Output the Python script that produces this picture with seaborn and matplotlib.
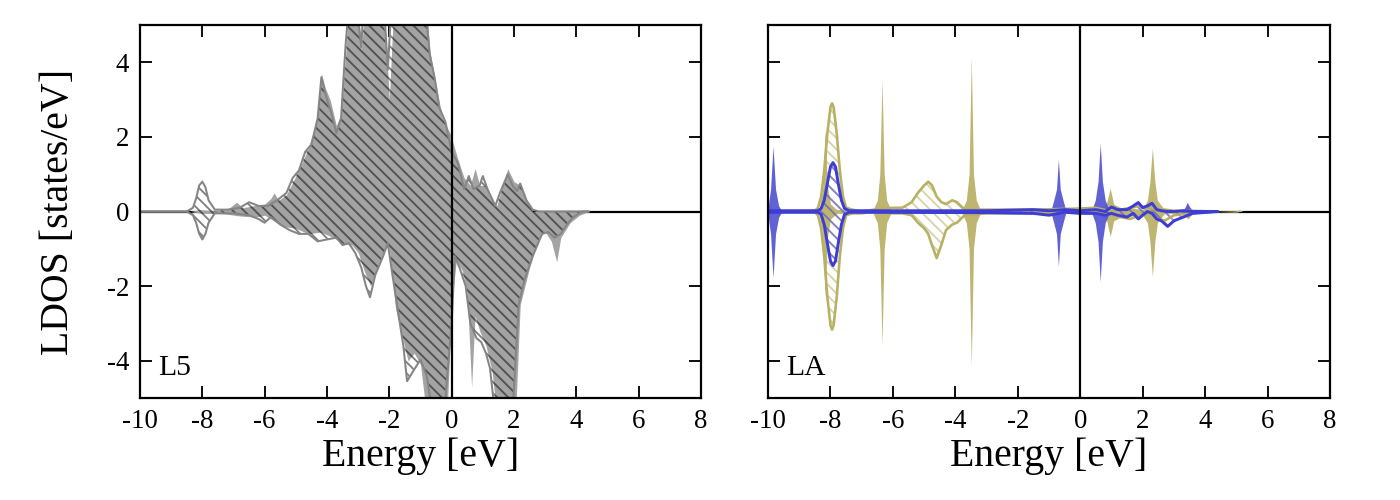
import numpy as np
import matplotlib
matplotlib.use("Agg")
import matplotlib.pyplot as plt
import seaborn as sns

# --- L5 site: solid (filled) LDOS ---
e_l5_fill_up = [-10.0, -8.4, -8.1, -7.6, -7.2, -6.9, -6.7, -6.4, -6.0, -5.8, -5.7, -5.55, -5.3, -5.0,
                -4.8, -4.6, -4.45, -4.3, -4.18, -4.05, -3.9, -3.7, -3.55, -3.4, -3.3, -3.05, -2.9,
                -2.75, -2.3, -2.1, -2.0, -1.9, -1.8, -0.85, -0.7, -0.5, -0.3, -0.05, 0.2, 0.4, 0.6,
                0.75, 0.9, 1.1, 1.3, 1.45, 1.6, 1.8, 2.0, 2.2, 2.4, 2.6, 4.4]
l5_fill_up = [0, 0, 0.05, 0.02, 0.05, 0.25, 0.1, 0.15, 0.2, 0.35, 0.5, 0.3, 0.45, 0.95,
              1.3, 1.7, 2.1, 2.6, 3.7, 3.3, 3.0, 2.3, 2.6, 4.2, 5.5, 6.0, 4.3,
              5.8, 6.0, 4.5, 3.0, 4.8, 6.0, 6.0, 4.3, 3.4, 2.5, 2.1, 1.4, 0.9, 0.7,
              1.15, 0.7, 0.7, 0.3, 0.15, 0.6, 1.15, 0.8, 0.7, 0.3, 0.0, 0.0]
e_l5_fill_dn = [-10.0, -8.4, -8.0, -7.4, -6.8, -6.3, -6.0, -5.7, -5.4, -5.0, -4.6, -4.2, -3.8, -3.5,
                -3.2, -3.0, -2.8, -2.6, -2.4, -2.1, -2.0, -1.8, -1.6, -1.4, -1.2, -1.0, -0.8,
                -0.15, 0.0, 0.15, 0.35, 0.5, 0.64, 0.75, 0.9, 1.1, 1.3, 1.45, 2.05, 2.2, 2.5,
                2.8, 3.0, 3.2, 3.37, 3.5, 3.8, 4.1, 4.4]
l5_fill_dn = [0, 0, -0.05, -0.05, -0.12, -0.15, -0.1, -0.25, -0.4, -0.45, -0.6, -0.55, -0.7, -0.85,
              -0.9, -1.1, -1.6, -2.0, -1.5, -0.9, -1.0, -2.6, -3.3, -4.0, -3.8, -4.1, -5.5,
              -5.5, -2.5, -1.3, -1.6, -2.2, -4.7, -2.8, -3.2, -3.6, -4.3, -5.5, -5.5, -2.5, -1.5,
              -0.7, -0.55, -0.8, -1.35, -0.7, -0.3, -0.1, 0.0]

# --- L5 site: hatched LDOS ---
e_l5_hatch_up = [-10.0, -8.5, -8.3, -8.2, -8.1, -8.0, -7.9, -7.8, -7.6, -7.2, -6.8, -6.5, -6.2, -5.9,
                 -5.6, -5.3, -5.1, -4.9, -4.7, -4.5, -4.3, -4.18, -4.0, -3.85, -3.7, -3.55, -3.4,
                 -3.3, -3.1, -2.9, -2.8, -2.2, -2.05, -1.9, -0.9, -0.7, -0.55, -0.4, -0.2, 0.0, 0.2,
                 0.4, 0.55, 0.7, 0.9, 1.0, 1.15, 1.4, 1.55, 1.8, 1.95, 2.1, 2.2, 2.4, 2.6, 2.8, 4.4]
l5_hatch_up = [0, 0, 0.1, 0.35, 0.7, 0.8, 0.65, 0.3, 0.05, 0.05, 0.1, 0.25, 0.15, 0.15,
               0.3, 0.5, 0.9, 1.1, 1.6, 1.8, 2.5, 3.6, 3.0, 2.6, 2.1, 2.5, 4.5,
               5.5, 6.0, 4.4, 6.0, 6.0, 3.8, 6.0, 6.0, 4.2, 3.6, 2.8, 2.4, 1.6, 1.3,
               0.6, 0.95, 0.6, 0.7, 0.95, 0.6, 0.15, 0.5, 1.0, 0.7, 0.55, 0.75, 0.3, 0.05, 0.0, 0.0]
e_l5_hatch_dn = [-10.0, -8.5, -8.3, -8.2, -8.1, -8.0, -7.9, -7.8, -7.6, -7.0, -6.5, -6.2, -6.0, -5.8,
                 -5.5, -5.2, -4.9, -4.6, -4.3, -4.0, -3.7, -3.5, -3.3, -3.1, -2.9, -2.75, -2.62,
                 -2.45, -2.2, -2.05, -1.9, -1.7, -1.55, -1.43, -1.25, -1.0, -0.8, -0.6, -0.25, 0.0,
                 0.1, 0.25, 0.45, 0.6, 0.8, 0.95, 1.1, 1.23, 1.4, 1.95, 2.15, 2.35, 2.6, 2.9, 3.1,
                 3.3, 3.5, 3.7, 3.9, 4.2, 4.4]
l5_hatch_dn = [0, 0, -0.1, -0.3, -0.6, -0.75, -0.6, -0.3, -0.05, -0.05, -0.1, -0.2, -0.3, -0.15,
               -0.35, -0.5, -0.6, -0.6, -0.8, -0.75, -0.7, -0.9, -0.85, -1.1, -1.5, -2.0, -2.3,
               -1.7, -1.2, -0.85, -1.7, -2.8, -3.6, -4.55, -4.3, -3.97, -4.4, -5.5, -5.5, -3.0,
               -1.2, -1.5, -2.0, -3.0, -3.4, -3.5, -3.8, -4.2, -5.5, -5.5, -2.5, -1.8, -1.2, -0.6, -0.55,
               -0.7, -0.6, -0.35, -0.15, 0.0, 0.0]

# --- LA site: olive solid spikes ---
e_la_olive = [-10.0, -8.5, -8.35, -8.25, -8.17, -8.1, -8.0, -7.8, -6.65, -6.5, -6.42, -6.35, -6.28,
              -6.2, -6.05, -3.8, -3.65, -3.56, -3.49, -3.42, -3.33, -3.2, -1.0, 0.0, 0.7, 0.85,
              0.96, 1.07, 1.3, 1.6, 2.0, 2.15, 2.23, 2.31, 2.39, 2.47, 2.7, 3.3, 3.45, 3.6, 3.8,
              4.2, 5.0, 5.1, 5.2]
la_olive_up = [0, 0, 0.1, 0.6, 2.2, 0.7, 0.2, 0.05, 0.02, 0.3, 1.0, 3.54, 1.0,
               0.3, 0.02, 0.02, 0.3, 1.0, 4.13, 1.0, 0.3, 0.05, 0.05, 0.05, 0.05, 0.25,
               0.62, 0.2, 0.1, 0.1, 0.05, 0.3, 0.8, 1.7, 0.8, 0.3, 0.05, 0.05, 0.15, 0.05, 0.05,
               0, 0.02, 0.05, 0]
la_olive_dn = [0, 0, -0.1, -0.6, -2.28, -0.7, -0.2, -0.05, -0.02, -0.3, -1.0, -3.57, -1.0,
               -0.3, -0.02, -0.02, -0.3, -1.0, -4.15, -1.0, -0.3, -0.05, -0.05, -0.05, -0.05, -0.25,
               -0.67, -0.25, -0.15, -0.12, -0.1, -0.3, -0.8, -1.74, -0.8, -0.3, -0.05, -0.05, -0.2, -0.05, -0.03,
               0, -0.02, 0, 0]

# --- LA site: blue solid spikes ---
e_la_blue = [-10.0, -9.92, -9.84, -9.76, -9.66, -9.55, -0.95, -0.85, -0.76, -0.7, -0.64, -0.55, -0.45,
             0.35, 0.48, 0.57, 0.64, 0.71, 0.8, 0.95, 3.2, 3.35, 3.43, 3.52, 3.65, 4.4]
la_blue_up = [0.1, 0.6, 1.75, 0.6, 0.15, 0, 0, 0.3, 0.6, 1.4, 0.6, 0.3, 0,
              0, 0.3, 0.8, 1.83, 0.8, 0.3, 0, 0, 0.1, 0.25, 0.1, 0, 0]
la_blue_dn = [-0.1, -0.6, -1.77, -0.6, -0.15, 0, 0, -0.3, -0.6, -1.47, -0.6, -0.3, 0,
              0, -0.3, -0.8, -1.88, -0.8, -0.3, 0, 0, -0.05, -0.12, -0.05, 0, 0]

# --- LA site: olive hatched ---
e_la_olive_h = [-10.0, -8.5, -8.4, -8.3, -8.2, -8.1, -8.0, -7.95, -7.9, -7.8, -7.7, -7.6, -7.5, -7.3,
                -7.0, -6.6, -6.0, -5.7, -5.4, -5.2, -5.0, -4.87, -4.75, -4.6, -4.45, -4.3, -4.1,
                -3.95, -3.7, -3.0, -1.5, 0.0, 0.5, 1.0, 1.3, 1.6, 1.9, 2.2, 2.5, 2.7, 3.0, 3.5, 4.4]
la_olive_h_up = [0, 0.02, 0.1, 0.4, 1.1, 2.1, 2.8, 2.9, 2.8, 2.1, 1.1, 0.4, 0.1, 0.05,
                 0.0, 0.05, 0.1, 0.1, 0.25, 0.5, 0.7, 0.8, 0.7, 0.4, 0.25, 0.2, 0.3,
                 0.25, 0.05, 0.05, 0.05, 0.08, 0.1, 0.0, 0.05, 0.1, 0.15, 0.1, 0.02, 0.05, 0.02, 0.02, 0]
la_olive_h_dn = [0, -0.02, -0.1, -0.45, -1.2, -2.3, -3.05, -3.17, -3.05, -2.3, -1.2, -0.45, -0.1, -0.05,
                 -0.05, 0, -0.05, -0.05, -0.1, -0.3, -0.45, -0.6, -0.9, -1.25, -0.9, -0.5, -0.35,
                 -0.3, -0.1, -0.05, -0.05, -0.02, 0, -0.1, -0.15, -0.2, -0.1, -0.05, -0.2, -0.25, -0.1, -0.05, 0]

# --- LA site: blue hatched ---
e_la_blue_h = [-10.0, -8.4, -8.3, -8.2, -8.1, -8.0, -7.92, -7.84, -7.75, -7.65, -7.55, -7.4, -3.0, -1.5,
               -1.0, -0.5, 0.0, 0.5, 0.8, 1.0, 1.2, 1.5, 1.7, 1.86, 2.0, 2.15, 2.3, 2.45, 2.6, 2.8,
               3.0, 3.3, 3.6, 4.4]
la_blue_h_up = [0.02, 0.02, 0.08, 0.3, 0.75, 1.2, 1.31, 1.2, 0.75, 0.3, 0.08, 0.02, 0.02, 0.05,
                0.02, 0.05, 0.02, 0.05, 0.0, 0.12, 0.05, 0.05, 0.15, 0.24, 0.1, 0.15, 0.22, 0.05, 0.02, 0.0,
                0.0, 0.02, 0.0, 0]
la_blue_h_dn = [-0.02, -0.02, -0.08, -0.35, -0.85, -1.33, -1.45, -1.33, -0.85, -0.35, -0.08, -0.02, -0.03, -0.05,
                -0.1, -0.02, -0.05, -0.05, -0.1, -0.05, -0.1, -0.15, -0.05, -0.2, -0.1, 0.0, -0.05, -0.2, -0.25, -0.4,
                -0.25, -0.15, -0.05, 0]

xticks = [-10, -8, -6, -4, -2, 0, 2, 4, 6, 8]
yticks = [-4, -2, 0, 2, 4]

sns.set_theme(style="ticks")
plt.rcParams['font.family'] = ['Liberation Serif', 'DejaVu Serif']
plt.rcParams['axes.unicode_minus'] = False
plt.rcParams['hatch.linewidth'] = 1.0
plt.rcParams['text.color'] = 'black'
plt.rcParams['axes.labelcolor'] = 'black'

fig = plt.figure(figsize=(10.5, 3.75), dpi=400 / 3)
ax1 = fig.add_axes([0.1, 0.204, 0.4007, 0.746])
ax2 = fig.add_axes([0.5486, 0.204, 0.4014, 0.746])

grey_fill = '#a3a3a3'
grey_line = '#858585'
olive = '#bdb570'
olive_line = '#b8b062'
blue = '#5050d2'
blue_line = '#3d3dd6'
HATCH = '\\\\\\\\'


def hatched(ax, e, vals, hatch_col, line_col, lw):
    e = np.asarray(e)
    ax.fill_between(e, 0, vals, facecolor='none', edgecolor=hatch_col, hatch=HATCH, linewidth=0)
    sns.lineplot(x=e, y=vals, ax=ax, color=line_col, lw=lw, sort=False, estimator=None)


# left panel
ax1.axhline(0, color='black', lw=1.2, zorder=0)
ax1.fill_between(e_l5_fill_up, 0, l5_fill_up, color=grey_fill, lw=0)
ax1.fill_between(e_l5_fill_dn, 0, l5_fill_dn, color=grey_fill, lw=0)
hatched(ax1, e_l5_hatch_up, l5_hatch_up, (0, 0, 0, 0.5), grey_line, 1.1)
hatched(ax1, e_l5_hatch_dn, l5_hatch_dn, (0, 0, 0, 0.5), grey_line, 1.1)

# right panel
ax2.axhline(0, color='black', lw=1.2, zorder=0)
ax2.fill_between(e_la_olive, 0, la_olive_up, color=olive, lw=0)
ax2.fill_between(e_la_olive, 0, la_olive_dn, color=olive, lw=0)
ax2.fill_between(e_la_blue, 0, la_blue_up, color=blue, alpha=0.9, lw=0)
ax2.fill_between(e_la_blue, 0, la_blue_dn, color=blue, alpha=0.9, lw=0)
hatched(ax2, e_la_olive_h, la_olive_h_up, (0.74, 0.71, 0.44, 0.6), olive_line, 1.4)
hatched(ax2, e_la_olive_h, la_olive_h_dn, (0.74, 0.71, 0.44, 0.6), olive_line, 1.4)
hatched(ax2, e_la_blue_h, la_blue_h_up, (0.3, 0.3, 0.85, 0.6), blue_line, 1.6)
hatched(ax2, e_la_blue_h, la_blue_h_dn, (0.3, 0.3, 0.85, 0.6), blue_line, 1.6)

for ax, name in [(ax1, 'L5'), (ax2, 'LA')]:
    ax.axvline(0, color='black', lw=1.2, zorder=5)
    ax.set_xlim(-10, 8)
    ax.set_ylim(-5, 5)
    ax.set_xticks(xticks)
    ax.set_yticks(yticks)
    ax.tick_params(direction='in', length=6.5, width=1.0, top=True, right=True,
                   labelsize=14.5, colors='black', pad=6)
    for sp in ax.spines.values():
        sp.set_linewidth(1.2)
        sp.set_color('black')
    ax.set_xlabel('Energy [eV]', fontsize=21.5, labelpad=2)
    ax.text(0.032, 0.062, name, transform=ax.transAxes, fontsize=16, va='baseline', ha='left')

ax1.set_ylabel('LDOS [states/eV]', fontsize=21.5, labelpad=16)
ax2.set_ylabel('')
ax2.tick_params(labelleft=False)

fig.savefig('out.png', dpi=400 / 3)
